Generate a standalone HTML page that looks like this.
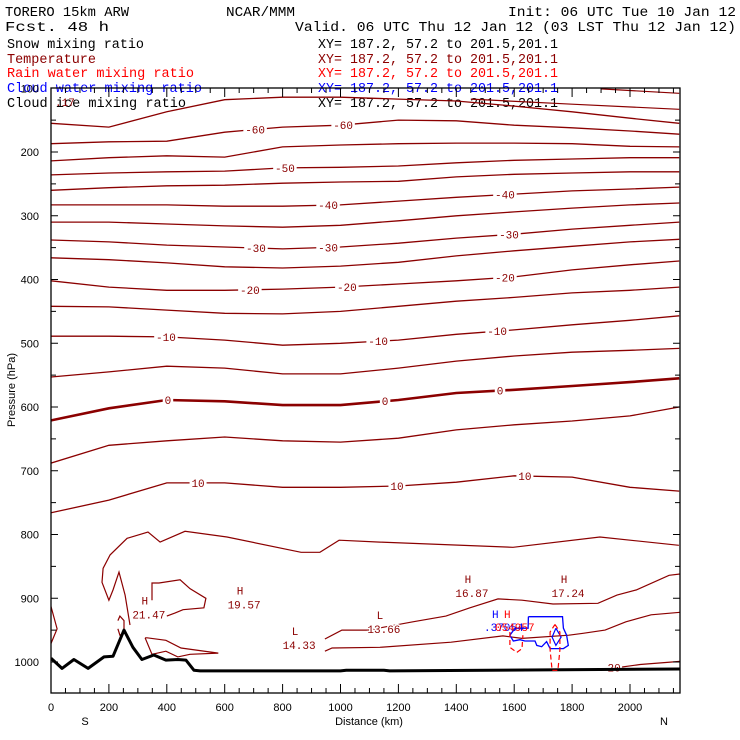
<!DOCTYPE html>
<html><head><meta charset="utf-8"><title>TORERO cross section</title>
<style>
html,body{margin:0;padding:0;background:#fff;}
svg{display:block;}
text{font-family:"Liberation Mono",monospace;}
.ax{font-family:"Liberation Sans",sans-serif;font-size:11px;fill:#000;}
</style></head>
<body>
<svg id="chart" width="740" height="740" viewBox="0 0 740 740" xmlns="http://www.w3.org/2000/svg">
<rect width="740" height="740" fill="#fff"/>
<g font-size="13.5">
<text x="5" y="16" textLength="124" lengthAdjust="spacingAndGlyphs">TORERO  15km ARW</text>
<text x="226" y="16" textLength="69" lengthAdjust="spacingAndGlyphs">NCAR/MMM</text>
<text x="508" y="16" textLength="228" lengthAdjust="spacingAndGlyphs">Init: 06 UTC Tue 10 Jan 12</text>
<text x="5" y="31" textLength="104" lengthAdjust="spacingAndGlyphs">Fcst.   48 h</text>
<text x="295" y="31" textLength="441" lengthAdjust="spacingAndGlyphs">Valid. 06 UTC Thu 12 Jan 12 (03 LST Thu 12 Jan 12)</text>
<text x="7" y="48" textLength="137" lengthAdjust="spacingAndGlyphs" fill="#000">Snow mixing ratio</text>
<text x="318" y="48" textLength="240" lengthAdjust="spacingAndGlyphs" fill="#000">XY= 187.2, 57.2 to 201.5,201.1</text>
<text x="7" y="63" textLength="89" lengthAdjust="spacingAndGlyphs" fill="#8b0000">Temperature</text>
<text x="318" y="63" textLength="240" lengthAdjust="spacingAndGlyphs" fill="#8b0000">XY= 187.2, 57.2 to 201.5,201.1</text>
<text x="7" y="77" textLength="187" lengthAdjust="spacingAndGlyphs" fill="#ff0000">Rain water mixing ratio</text>
<text x="318" y="77" textLength="240" lengthAdjust="spacingAndGlyphs" fill="#ff0000">XY= 187.2, 57.2 to 201.5,201.1</text>
<text x="7" y="92" textLength="195" lengthAdjust="spacingAndGlyphs" fill="#0000ff">Cloud water mixing ratio</text>
<text x="318" y="92" textLength="240" lengthAdjust="spacingAndGlyphs" fill="#0000ff">XY= 187.2, 57.2 to 201.5,201.1</text>
<text x="7" y="107" textLength="179" lengthAdjust="spacingAndGlyphs" fill="#000">Cloud ice mixing ratio</text>
<text x="318" y="107" textLength="240" lengthAdjust="spacingAndGlyphs" fill="#000">XY= 187.2, 57.2 to 201.5,201.1</text>
<text x="55" y="106" font-size="11" fill="#8b0000">.17</text>
</g>
<g id="plot"></g>
<g id="axes"></g>
</svg>
<script>
// ---- data ----
const isoKm = [0,200,400,600,800,1000,1200,1400,1600,1800,2000,2170];
const tempLevels = [-65,-60,-55,-50,-45,-40,-35,-30,-25,-20,-15,-10,-5,0,5,10];
const tM65 = [155,161,137,118,114,114,117,120,128,137,147,155];
const tM60 = [187,184,183,169,161,158,150,151,158,162,167,172];
const tM55 = [214,209,206,208,192,189,187,186,186,187,191,192];
const tM50 = [236,233,231,230,225,224,222,217,213,211,209,209];
const tM45 = [260,256,253,252,249,247,246,239,235,233,231,231];
const tM40 = [283,283,283,285,285,283,277,271,266,261,258,255];
const tM35 = [310,310,313,316,318,315,308,300,294,288,283,280];
const tM30 = [338,341,346,349,352,349,343,335,329,321,315,310];
const tM25 = [366,369,374,380,382,379,373,363,355,348,341,337];
const tM20 = [402,412,417,417,415,412,407,402,396,385,377,371];
const tM15 = [442,443,448,453,454,450,442,434,428,421,417,412];
const tM10 = [489,489,490,495,503,500,495,486,479,471,464,457];
const tM5  = [553,545,536,539,548,548,539,528,520,514,511,508];
const t0   = [621,602,589,591,597,597,589,578,573,567,561,555];
const tP5  = [688,660,653,647,653,655,649,636,628,622,614,600];
const tP10 = [766,746,719,719,726,726,724,718,708,710,726,732];
const isoP = [tM65,tM60,tM55,tM50,tM45,tM40,tM35,tM30,tM25,tM20,tM15,tM10,tM5,t0,tP5,tP10];

// partial / irregular isotherms
const partA_km = [1900,2170];            const partA_p = [101,108];
const partB_km = [1450,1800,2170];        const partB_p = [117,125,133];
const t15_km = [273,256,235,214,200,176,180,204,263,335,377,463,608,864,929,995,1136,1596,1896,2169];
const t15_p  = [942,895,859,887,903,875,853,832,806,796,812,795,804,828,828,809,812,820,804,817];
const t18_km = [946,1005,1095,1250,1364,1447,1544,1627,1734,1889,1955,2021,2135,2173];
const t18_p  = [964,950,950,937,928,915,901,903,909,908,895,887,864,862];
const t19_km = [946,971,1136,1382,1561,1627,1789,1838,1914,1986,2073,2173];
const t19_p  = [983,978,977,969,959,963,958,955,950,937,926,922];
const t20_km = [1938,2035,2173];          const t20_p = [1010,1004,999];
const loop1_km = [349,349,373,446,480,535,528,456,429,400];
const loop1_p  = [903,876,876,871,885,900,915,918,923,928];
const loop2_km = [325,349,397,438,480,578,449,397,332,325];
const loop2_p  = [962,988,983,992,988,986,978,966,962,962];
const edge_km = [0,21,0];                 const edge_p = [913,948,971];
const peak_km = [231,238,252,252,238,231];const peak_p = [935,928,935,955,958,948];

// labels on isotherms
const tLabelTemp = [-60,-60,-50,-40,-40,-30,-30,-30,-20,-20,-20,-10,-10,-10,0,0,0,10,10,10];
const tLabelKm   = [705,1009,808,957,1568,708,957,1582,687,1022,1568,397,1130,1541,404,1154,1551,508,1195,1637];

// terrain (surface pressure)
const terrKm = [0,38,79,128,183,214,252,283,314,355,397,438,466,494,515,1000,1020,1150,1170,2173];
const terrP  = [994,1010,996,1010,992,991,950,977,996,989,997,996,997,1013,1014,1014,1013,1013,1014,1011];

// H/L extrema
const extType = ['H','H','L','L','H','H'];
const extVal  = ['21.47','19.57','14.33','13.66','16.87','17.24'];
const extKm   = [338,667,857,1150,1454,1786];
const extP    = [922,907,970,945,889,889];

// cloud water (blue) and rain water (red, dashed)
const cwKm = [1649,1767,1770,1781,1787,1770,1724,1712,1695,1678,1672,1637,1620,1597,1585,1603,1648,1649];
const cwP  = [929,929,947,958,974,979,979,968,976,974,967,967,965,967,958,947,947,929];
const cw2Km = [1744,1762,1744,1731,1744]; const cw2P = [947,961,974,961,947];
const rw1Km = [1585,1585,1609,1627,1630]; const rw1P = [953,977,985,979,958];
const rw2Km = [1741,1758,1758,1751,1731,1724,1724,1741];
const rw2P  = [941,953,981,1013,1013,981,953,941];

// axis ticks
const xTicks = [0,200,400,600,800,1000,1200,1400,1600,1800,2000];
const yTicks = [100,200,300,400,500,600,700,800,900,1000];

// ---- scales ----
const X0=51, X1=680, Y0=88, Y1=693;
function xs(km){ return 51 + km*0.2895; }
function ys(p){ return 152 + (p-200)*0.6375; }
const NS='http://www.w3.org/2000/svg';
const plot=document.getElementById('plot');
const axes=document.getElementById('axes');
function mk(tag, attrs, parent){ const e=document.createElementNS(NS,tag); for(const k in attrs) e.setAttribute(k,attrs[k]); (parent||plot).appendChild(e); return e; }
function pts(kms, ps){ return kms.map((k,i)=>xs(k).toFixed(1)+','+ys(ps[i]).toFixed(1)).join(' '); }

// clip
const defs=mk('defs',{},document.getElementById('chart'));
const cp=mk('clipPath',{id:'clip'},defs);
mk('rect',{x:X0,y:Y0,width:X1-X0,height:Y1-Y0},cp);
plot.setAttribute('clip-path','url(#clip)');

const DR='#8b0000';
isoP.forEach((ps,i)=>{
  const el=mk('polyline',{points:pts(isoKm,ps),fill:'none',stroke:DR,'stroke-width':tempLevels[i]===0?2.6:1.3});
  
  
});
[[partA_km,partA_p],[partB_km,partB_p],[t15_km,t15_p],[t18_km,t18_p],[t19_km,t19_p],[t20_km,t20_p],[loop1_km,loop1_p],[loop2_km,loop2_p],[edge_km,edge_p],[peak_km,peak_p]].forEach(([k,p])=>{
  const el=mk('polyline',{points:pts(k,p),fill:'none',stroke:DR,'stroke-width':1.2});
  
  
});

function interp(ps, km){
  for(let i=0;i<isoKm.length-1;i++){ if(km>=isoKm[i]&&km<=isoKm[i+1]){ const f=(km-isoKm[i])/(isoKm[i+1]-isoKm[i]); return ps[i]+(ps[i+1]-ps[i])*f; } }
  return ps[ps.length-1];
}
tLabelTemp.forEach((t,i)=>{
  const li=tempLevels.indexOf(t);
  const p=interp(isoP[li], tLabelKm[i]);
  const x=xs(tLabelKm[i]), y=ys(p);
  const s=String(t);
  const w=s.length*6.5+4;
  const r=mk('rect',{x:x-w/2,y:y-6,width:w,height:12,fill:'#fff'});
  
  
  const tx=mk('text',{x:x,y:y+4,'text-anchor':'middle','font-family':'Liberation Sans, sans-serif','font-size':11,fill:DR});
  
  
  tx.textContent=s;
});
{
  const r=mk('rect',{x:xs(1945)-8,y:ys(1009)-6,width:16,height:12,fill:'#fff'});
  
  
  const tx=mk('text',{x:xs(1945),y:ys(1009)+4,'text-anchor':'middle','font-family':'Liberation Sans, sans-serif','font-size':11,fill:DR});
  
  
  tx.textContent='20';
}

// terrain
{
  const el=mk('polyline',{points:pts(terrKm,terrP),fill:'none',stroke:'#000','stroke-width':3,'stroke-linejoin':'round'});
  
  
}

// moisture
{
  let el=mk('polyline',{points:pts(cwKm,cwP),fill:'none',stroke:'#0000ff','stroke-width':1.3});
  
  
  el=mk('polyline',{points:pts(cw2Km,cw2P),fill:'none',stroke:'#0000ff','stroke-width':1.2});
  
  
  el=mk('polyline',{points:pts(rw1Km,rw1P),fill:'none',stroke:'#ff0000','stroke-width':1.2,'stroke-dasharray':'5,3'});
  
  
  el=mk('polyline',{points:pts(rw2Km,rw2P),fill:'none',stroke:'#ff0000','stroke-width':1.2,'stroke-dasharray':'5,3'});
  
  
}

// extrema labels
extType.forEach((t,i)=>{
  const x=xs(extKm[i]), y=ys(extP[i]);
  const a=mk('text',{x:x-4,y:y-8,'text-anchor':'middle','font-family':'Liberation Sans, sans-serif','font-size':11,fill:DR,stroke:'#fff','stroke-width':3,'paint-order':'stroke'});
  
  
  a.textContent=t;
  const b=mk('text',{x:x,y:y+6,'text-anchor':'middle','font-family':'Liberation Sans, sans-serif','font-size':11,fill:DR,stroke:'#fff','stroke-width':3,'paint-order':'stroke'});
  
  
  b.textContent=extVal[i];
});
{
  const items=[['H',492,618,'#0000ff'],['H',504,618,'#ff0000'],['.37054',484,631,'#0000ff'],['054957',495,631,'#ff0000']];
  items.forEach(it=>{
    const e=mk('text',{x:it[1],y:it[2],'font-family':'Liberation Sans, sans-serif','font-size':11,fill:it[3]});
    
    
    e.textContent=it[0];
  });
}

// ---- axes ----
{
  const f=mk('rect',{x:X0,y:Y0,width:X1-X0,height:Y1-Y0,fill:'none',stroke:'#000','stroke-width':1.3},axes);
  
  
}
for(let km=0; km<=2170; km+=50){
  const major = km%200===0;
  const L = major?9:5;
  const x=xs(km);
  let t=mk('line',{x1:x,y1:Y1,x2:x,y2:Y1-L,stroke:'#000','stroke-width':1},axes);
  
  
  t=mk('line',{x1:x,y1:Y0,x2:x,y2:Y0+L,stroke:'#000','stroke-width':1},axes);
  
  
}
xTicks.forEach(v=>{
  const e=mk('text',{x:xs(v),y:711,'text-anchor':'middle',class:'ax'},axes);
  
  
  e.textContent=v;
});
for(let p=150;p<=1050;p+=50){
  const major=p%100===0;
  const L=major?7:5;
  const y=ys(p);
  if(y<Y0||y>Y1) continue;
  let t=mk('line',{x1:X0,y1:y,x2:X0+L,y2:y,stroke:'#000','stroke-width':1},axes);
  
  
  t=mk('line',{x1:X1,y1:y,x2:X1-L,y2:y,stroke:'#000','stroke-width':1},axes);
  
  
}
yTicks.forEach(v=>{
  const e=mk('text',{x:39,y:ys(v)+4,'text-anchor':'end',class:'ax'},axes);
  
  
  e.textContent=v;
});
{
  let e=mk('text',{x:369,y:725,'text-anchor':'middle',class:'ax'},axes);
  
  
  e.textContent='Distance (km)';
  e=mk('text',{x:85,y:725,'text-anchor':'middle',class:'ax'},axes);
  
  
  e.textContent='S';
  e=mk('text',{x:664,y:725,'text-anchor':'middle',class:'ax'},axes);
  
  
  e.textContent='N';
  e=mk('text',{x:15,y:390,'text-anchor':'middle',class:'ax',transform:'rotate(-90 15 390)'},axes);
  
  
  e.textContent='Pressure (hPa)';
}
</script>
</body></html>
